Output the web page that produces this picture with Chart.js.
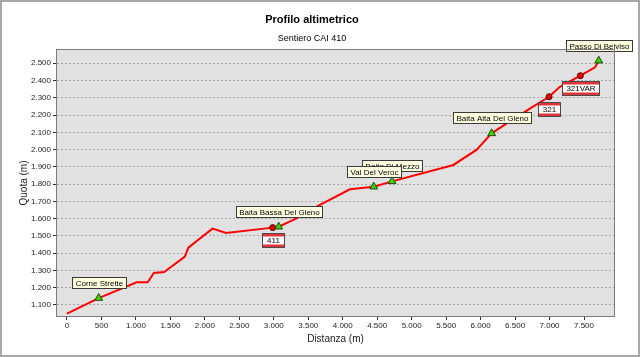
<!DOCTYPE html>
<html>
<head>
<meta charset="utf-8">
<script src="https://cdn.jsdelivr.net/npm/chart.js@4.4.0/dist/chart.umd.min.js"></script>
<style>
  html, body { margin: 0; padding: 0; background: #fff; }
  canvas { display: block; }
</style>
</head>
<body>
<canvas id="grafico" width="640" height="357"></canvas>
<script>
// profilo del sentiero: distanza (m) e quota (m)
const distanze = [0, 460, 1010, 1170, 1260, 1410, 1710, 1760, 2110, 2310, 2984, 3071, 3330, 3620, 4105, 4450, 4715, 5605, 5940, 6160, 6380, 6720, 6993, 7150, 7447, 7660, 7714];
const quote = [1050, 1140, 1231, 1231, 1285, 1291, 1380, 1432, 1542, 1517, 1548, 1553, 1602, 1669, 1770, 1785, 1816, 1911, 1998, 2094, 2152, 2239, 2306, 2364, 2428, 2477, 2515];

// punti di interesse (triangoli verdi)
const puntiNomi = ['Corne Strette', 'Baita Bassa Del Gleno', 'Baita Di Mezzo', 'Val Del Veroc', 'Baita Alta Del Gleno', 'Passo Di Belviso'];
const puntiDist = [460, 3071, 4715, 4450, 6160, 7714];
const puntiQuota = [1140, 1553, 1816, 1785, 2094, 2515];

// incroci con altri sentieri (pallini rossi)
const sentieriNomi = ['411', '321', '321VAR'];
const sentieriDist = [2984, 6993, 7447];
const sentieriQuota = [1548, 2306, 2428];

// tacche degli assi
const tickDistanza = [0, 500, 1000, 1500, 2000, 2500, 3000, 3500, 4000, 4500, 5000, 5500, 6000, 6500, 7000, 7500];
const tickQuota = [1100, 1200, 1300, 1400, 1500, 1600, 1700, 1800, 1900, 2000, 2100, 2200, 2300, 2400, 2500];

const FONT = "'Liberation Sans', Arial, sans-serif";

function formatta(v) {
    return String(v).replace(/\B(?=(\d{3})+(?!\d))/g, '.');
}

const sfondoPlugin = {
    id: 'sfondo',
    beforeDraw(chart) {
        const { ctx, chartArea: a } = chart;
        ctx.save();
        ctx.fillStyle = '#fff';
        ctx.fillRect(0, 0, chart.width, chart.height);
        ctx.fillStyle = '#e1e1e1';
        ctx.fillRect(a.left, a.top, a.right - a.left, a.bottom - a.top);
        ctx.restore();
    },
    afterDraw(chart) {
        const { ctx, chartArea: a } = chart;
        ctx.save();
        ctx.strokeStyle = '#7a7a7a';
        ctx.lineWidth = 1;
        ctx.strokeRect(Math.round(a.left) - 0.5, Math.round(a.top) - 0.5, a.right - a.left + 1, a.bottom - a.top + 1);
        ctx.strokeStyle = '#a8a8a8';
        ctx.lineWidth = 2;
        ctx.strokeRect(1, 1, chart.width - 2, chart.height - 2);
        ctx.restore();
    }
};

const etichettePlugin = {
    id: 'etichette',
    afterDatasetsDraw(chart) {
        const { ctx, scales: { x, y } } = chart;
        ctx.save();
        ctx.font = '8px ' + FONT;
        ctx.textBaseline = 'middle';
        ctx.textAlign = 'center';

        // nomi dei punti, sopra il triangolo
        puntiNomi.forEach((nome, i) => {
            const px = x.getPixelForValue(puntiDist[i]);
            const py = y.getPixelForValue(puntiQuota[i]);
            const w = Math.round(ctx.measureText(nome).width + 6);
            const h = 11;
            const left = Math.round(px - w / 2) + 0.5;
            const top = Math.round(py - 10 - h) + 0.5;
            ctx.fillStyle = '#ffffe1';
            ctx.fillRect(left, top, w, h);
            ctx.strokeStyle = '#3a3a3a';
            ctx.lineWidth = 1;
            ctx.strokeRect(left, top, w, h);
            ctx.fillStyle = '#000';
            ctx.fillText(nome, left + w / 2, top + h / 2 + 0.5);
        });

        // numeri dei sentieri, sotto il pallino
        sentieriNomi.forEach((nome, i) => {
            const px = x.getPixelForValue(sentieriDist[i]);
            const py = y.getPixelForValue(sentieriQuota[i]);
            const w = Math.round(Math.max(ctx.measureText(nome).width + 8, 22));
            const h = 14;
            const left = Math.round(px - w / 2) + 0.5;
            const top = Math.round(py + 5) + 0.5;
            ctx.fillStyle = '#fff';
            ctx.fillRect(left, top, w, h);
            ctx.fillStyle = '#e0333a';
            ctx.fillRect(left, top, w, 3);
            ctx.fillRect(left, top + h - 3, w, 3);
            ctx.strokeStyle = '#4a4a4a';
            ctx.lineWidth = 1;
            ctx.strokeRect(left, top, w, h);
            ctx.fillStyle = '#000';
            ctx.fillText(nome, left + w / 2, top + h / 2 + 0.5);
        });
        ctx.restore();
    }
};

new Chart(document.getElementById('grafico'), {
    type: 'scatter',
    data: {
        datasets: [
            {
                label: 'Profilo',
                data: distanze.map((d, i) => ({ x: d, y: quote[i] })),
                showLine: true,
                borderColor: '#ff0000',
                borderWidth: 2,
                pointRadius: 0,
                tension: 0,
                order: 3
            },
            {
                label: 'Sentieri',
                data: sentieriDist.map((d, i) => ({ x: d, y: sentieriQuota[i] })),
                pointStyle: 'circle',
                pointRadius: 3,
                backgroundColor: '#e80000',
                borderColor: '#5a0000',
                borderWidth: 1,
                order: 2
            },
            {
                label: 'Punti',
                data: puntiDist.map((d, i) => ({ x: d, y: puntiQuota[i] })),
                pointStyle: 'triangle',
                pointRadius: 4.5,
                backgroundColor: '#3cd400',
                borderColor: '#1e4a00',
                borderWidth: 1,
                order: 1
            }
        ]
    },
    options: {
        responsive: false,
        animation: false,
        devicePixelRatio: 1,
        layout: { padding: { left: 10, right: 26, top: 8, bottom: 6 } },
        plugins: {
            legend: { display: false },
            tooltip: { enabled: false },
            title: {
                display: true,
                text: 'Profilo altimetrico',
                color: '#000',
                font: { family: FONT, size: 11, weight: 'bold' },
                padding: { top: 5, bottom: 3 }
            },
            subtitle: {
                display: true,
                text: 'Sentiero CAI 410',
                color: '#000',
                font: { family: FONT, size: 9 },
                padding: { top: 4, bottom: 6 }
            }
        },
        scales: {
            x: {
                type: 'linear',
                min: -145,
                max: 7935,
                afterBuildTicks(scale) { scale.ticks = tickDistanza.map(v => ({ value: v })); },
                afterFit(scale) { scale.height = 35; },
                border: { display: false },
                grid: { drawOnChartArea: false, drawTicks: true, tickLength: 4, tickColor: '#333', color: '#333' },
                ticks: {
                    autoSkip: false,
                    maxRotation: 0,
                    padding: 1,
                    color: '#222',
                    font: { family: FONT, size: 8 },
                    callback: v => formatta(v)
                },
                title: {
                    display: true,
                    text: 'Distanza (m)',
                    color: '#222',
                    font: { family: FONT, size: 10 },
                    padding: { top: 0, bottom: 6 }
                }
            },
            y: {
                type: 'linear',
                min: 1036,
                max: 2577,
                afterBuildTicks(scale) { scale.ticks = tickQuota.map(v => ({ value: v })); },
                afterFit(scale) { scale.width = 47; },
                border: { display: false, dash: [2, 2] },
                grid: { color: '#a9a9a9', tickColor: '#333', tickLength: 4, tickBorderDash: [] },
                ticks: {
                    autoSkip: false,
                    padding: 2,
                    color: '#222',
                    font: { family: FONT, size: 8 },
                    callback: v => formatta(v)
                },
                title: {
                    display: true,
                    text: 'Quota (m)',
                    color: '#222',
                    font: { family: FONT, size: 10 },
                    padding: { top: 8, bottom: 0 }
                }
            }
        }
    },
    plugins: [sfondoPlugin, etichettePlugin]
});
</script>
</body>
</html>
